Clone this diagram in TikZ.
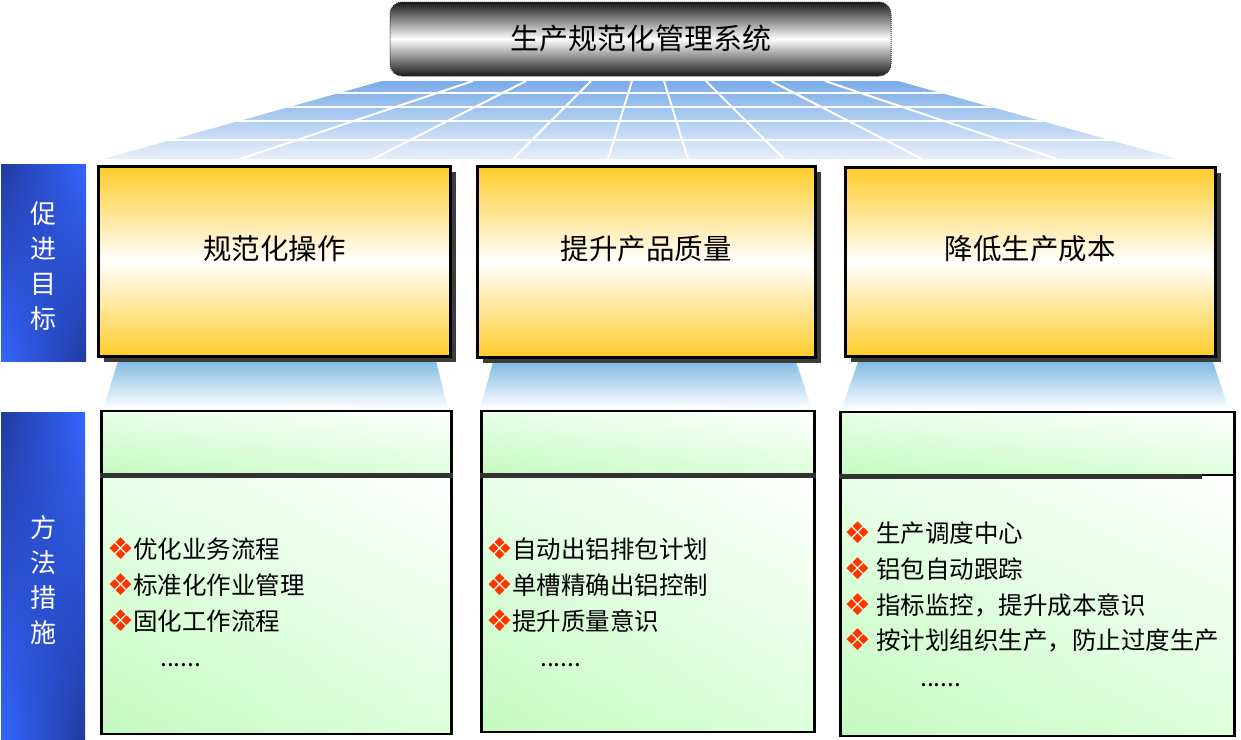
\documentclass[tikz,border=0pt]{standalone}
\usepackage{fontspec}
\setmainfont{Noto Sans CJK SC}
\newfontfamily\dejavu{DejaVu Sans}
\usetikzlibrary{shadows,calc,shadings}
\definecolor{orng}{RGB}{255,204,41}
\definecolor{shadowgray}{RGB}{60,60,60}
\definecolor{bulred}{RGB}{255,51,0}
\definecolor{barbright}{RGB}{51,102,255}
\definecolor{bardark}{RGB}{34,58,160}
\definecolor{gridtop}{RGB}{122,172,232}
\definecolor{gridbot}{RGB}{232,240,251}
\definecolor{linktop}{RGB}{130,188,228}
\definecolor{gA}{RGB}{232,255,232}
\definecolor{gB}{RGB}{196,250,192}
\definecolor{gC}{RGB}{222,255,220}
\definecolor{sepgray}{RGB}{50,50,50}
\newcommand\bul{\makebox[25pt][c]{\dejavu\fontsize{30pt}{30pt}\selectfont\color{bulred}\raisebox{-1pt}{❖}}}
\begin{document}
\begin{tikzpicture}[x=1pt,y=-1pt,
  titlebox/.style={draw=black!80, densely dotted, line width=1pt, rounded corners=12pt,
    top color=black!90, bottom color=black!90, middle color=white,
    minimum width=501pt, minimum height=74pt, inner sep=0pt,
    font=\fontsize{29pt}{32pt}\selectfont},
  obox/.style={draw=black, line width=2.5pt, top color=orng, bottom color=orng, middle color=white,
    general shadow={fill=shadowgray, shadow xshift=5pt, shadow yshift=-5pt}, inner sep=0pt},
  olabel/.style={inner sep=0pt, font=\fontsize{28.5pt}{32pt}\selectfont},
  bar/.style={inner sep=0pt, upper left=bardark, upper right=barbright, lower left=barbright, lower right=bardark},
  bartext/.style={inner sep=0pt, text=white, align=center, font=\fontsize{26pt}{35pt}\selectfont},
  gtop/.style={draw=black, line width=2.5pt, inner sep=0pt, upper left=gA, upper right=white, lower left=gB, lower right=gC},
  gbot/.style={draw=black, line width=2.5pt, inner sep=0pt, upper left=gA, upper right=white, lower left=gB, lower right=gC},
  sepline/.style={draw=sepgray, line width=4.5pt},
  item/.style={anchor=west, inner sep=0pt, font=\fontsize{24.5pt}{28pt}\selectfont},
  dots/.style={anchor=base west, inner sep=0pt, font=\fontsize{24.5pt}{28pt}\selectfont},
  gridline/.style={draw=white, line width=2pt},
  link/.style={top color=linktop, bottom color=white}
]
\useasboundingbox (0,0) rectangle (1241,739);

% perspective grid
\begin{scope}
  \clip (382,81) -- (898,81) -- (1178,159) -- (103,159) -- cycle;
  \shade[top color=gridtop, bottom color=gridbot] (382,81) -- (898,81) -- (1178,159) -- (103,159) -- cycle;
  \foreach \yy in {93,107,121,140} \draw[gridline] (90,\yy) -- (1200,\yy);
  \foreach \xa/\xb in {473/240, 526/373, 591/513, 632/608, 664/688, 706/784, 771/922, 825/1057}
    \draw[gridline] (\xa,81) -- (\xb,159);
\end{scope}

% title
\node[titlebox] (title) at (640.5,39) {生产规范化管理系统};

% link trapezoids
\shade[link] (118,361) -- (436,361) -- (448,409) -- (103,409) -- cycle;
\shade[link] (493,362) -- (796,362) -- (812,409) -- (480,409) -- cycle;
\shade[link] (858,362) -- (1213,362) -- (1229,410) -- (841,410) -- cycle;

% left bars
\node[bar, minimum width=85pt, minimum height=197pt] (bar1) at (43.5,262.5) {};
\node[bartext] (bar1t) at (43,266) {促\\进\\目\\标};
\node[bar, minimum width=84pt, minimum height=327pt] (bar2) at (43,575.5) {};
\node[bartext] (bar2t) at (43,580) {方\\法\\措\\施};

% goal boxes
\node[obox, minimum width=352pt, minimum height=190pt] (g1) at (274.5,261.5) {};
\node[olabel] (g1t) at (274.5,249) {规范化操作};
\node[obox, minimum width=338pt, minimum height=191pt] (g2) at (646.5,262) {};
\node[olabel] (g2t) at (646,249) {提升产品质量};
\node[obox, minimum width=370pt, minimum height=189pt] (g3) at (1030.5,262) {};
\node[olabel] (g3t) at (1030,249) {降低生产成本};

% measure boxes
\node[gbot, minimum width=350pt, minimum height=260pt] (m1b) at (276.5,604) {};
\node[gtop, minimum width=350pt, minimum height=63pt] (m1t) at (276.5,442.5) {};
\draw[sepline] (m1t.south west) -- (m1t.south east);
\node[gbot, minimum width=333pt, minimum height=258pt] (m2b) at (648,603) {};
\node[gtop, minimum width=333pt, minimum height=63pt] (m2t) at (648,442.5) {};
\draw[sepline] (m2t.south west) -- (m2t.south east);
\node[gbot, minimum width=394pt, minimum height=261pt] (m3b) at (1037.5,605.5) {};
\node[gtop, minimum width=394pt, minimum height=63pt] (m3t) at (1037.5,443.5) {};
\draw[sepline] (m3t.south west) -- ($(m3t.south east)+(-34,0)$);

% items
\node[item] (i11) at (108,549) {\bul 优化业务流程};
\node[item] (i12) at (108,585) {\bul 标准化作业管理};
\node[item] (i13) at (108,621) {\bul 固化工作流程};
\node[dots] (d1) at (160,666) {......};

\node[item] (i21) at (487,549) {\bul 自动出铝排包计划};
\node[item] (i22) at (487,585) {\bul 单槽精确出铝控制};
\node[item] (i23) at (487,621) {\bul 提升质量意识};
\node[dots] (d2) at (540,666) {......};

\node[item] (i31) at (845,533) {\bul\hspace{6pt}生产调度中心};
\node[item] (i32) at (845,569) {\bul\hspace{6pt}铝包自动跟踪};
\node[item] (i33) at (845,605) {\bul\hspace{6pt}指标监控，提升成本意识};
\node[item] (i34) at (845,640) {\bul\hspace{6pt}按计划组织生产，防止过度生产};
\node[dots] (d3) at (920,686) {......};
\end{tikzpicture}
\end{document}
